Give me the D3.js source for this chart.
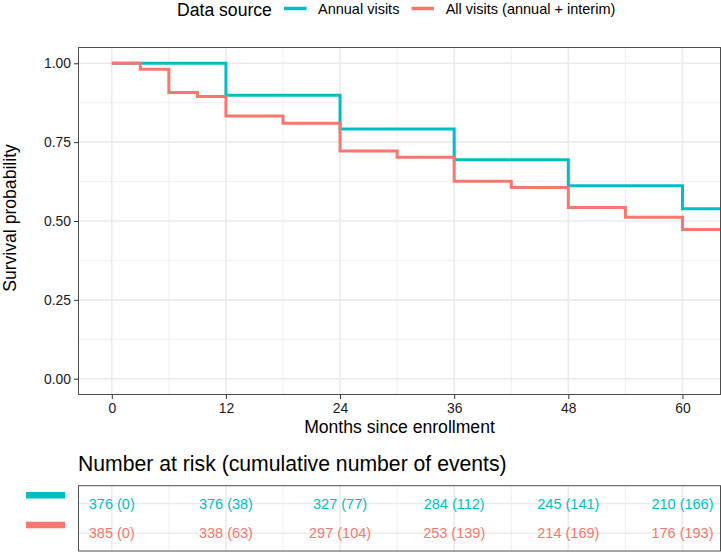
<!DOCTYPE html>
<html><head><meta charset="utf-8">
<script src="https://cdn.jsdelivr.net/npm/d3@7"></script>
<style>
html,body{margin:0;padding:0;background:#fff;}
svg{display:block;font-family:"Liberation Sans",Arial,Helvetica,sans-serif;}
</style></head>
<body>
<svg id="chart" width="721" height="552"></svg>
<script>
// ---------------- data ----------------
const seriesNames = ["Annual visits", "All visits (annual + interim)"];
const seriesColors = ["#00BFC4", "#F8766D"];

const annualTimes = [0, 12, 24, 36, 48, 60];
const annualSurv  = [1.000, 0.899, 0.792, 0.694, 0.612, 0.539];

const allTimes = [0, 3, 6, 9, 12, 18, 24, 30, 36, 42, 48, 54, 60];
const allSurv  = [1.000, 0.981, 0.907, 0.895, 0.833, 0.810, 0.722, 0.702, 0.626, 0.606, 0.543, 0.512, 0.473];

const followUpEnd = 66;

const xTicks = [0, 12, 24, 36, 48, 60];
const xMinor = [6, 18, 30, 42, 54];
const yTicks = [0, 0.25, 0.5, 0.75, 1];
const yMinor = [0.125, 0.375, 0.625, 0.875];

const riskTimes = [0, 12, 24, 36, 48, 60];
const riskAnnual = ["376 (0)", "376 (38)", "327 (77)", "284 (112)", "245 (141)", "210 (166)"];
const riskAll    = ["385 (0)", "338 (63)", "297 (104)", "253 (139)", "214 (169)", "176 (193)"];

// ---------------- layout ----------------
const svg = d3.select("#chart");
const P = {left: 78.5, right: 720.5, top: 47.5, bottom: 394.5};
const T = {left: 78.5, right: 720.5, top: 485.7, bottom: 551};
const gridCol = "#EBEBEB", borderCol = "#4D4D4D";

const x = d3.scaleLinear().domain([-3.5, 64.0]).range([P.left, P.right]);
const y = d3.scaleLinear().domain([-0.05, 1.05]).range([P.bottom, P.top]);

// clip
svg.append("defs").append("clipPath").attr("id","pclip")
  .append("rect").attr("x",P.left).attr("y",P.top).attr("width",P.right-P.left).attr("height",P.bottom-P.top);

// panel grid
const g = svg.append("g");
g.selectAll(".ymin").data(yMinor).join("line")
  .attr("x1",P.left).attr("x2",P.right).attr("y1",d=>y(d)).attr("y2",d=>y(d))
  .attr("stroke",gridCol).attr("stroke-width",0.8);
g.selectAll(".xmin").data(xMinor).join("line")
  .attr("y1",P.top).attr("y2",P.bottom).attr("x1",d=>x(d)).attr("x2",d=>x(d))
  .attr("stroke",gridCol).attr("stroke-width",0.8);
g.selectAll(".ymaj").data(yTicks).join("line")
  .attr("x1",P.left).attr("x2",P.right).attr("y1",d=>y(d)).attr("y2",d=>y(d))
  .attr("stroke",gridCol).attr("stroke-width",1.6);
g.selectAll(".xmaj").data(xTicks).join("line")
  .attr("y1",P.top).attr("y2",P.bottom).attr("x1",d=>x(d)).attr("x2",d=>x(d))
  .attr("stroke",gridCol).attr("stroke-width",1.6);

// step curves
function stepData(times, surv){
  const pts = times.map((t,i)=>[t, surv[i]]);
  pts.push([followUpEnd, surv[surv.length-1]]);
  return pts;
}
const line = d3.line().x(d=>x(d[0])).y(d=>y(d[1])).curve(d3.curveStepAfter);
const curves = svg.append("g").attr("clip-path","url(#pclip)");
[[annualTimes, annualSurv],[allTimes, allSurv]].forEach((s,i)=>{
  curves.append("path").attr("d", line(stepData(s[0], s[1])))
    .attr("fill","none").attr("stroke",seriesColors[i]).attr("stroke-width",3)
    .attr("stroke-linejoin","miter");
});

// panel border
svg.append("rect").attr("x",P.left).attr("y",P.top).attr("width",P.right-P.left).attr("height",P.bottom-P.top)
  .attr("fill","none").attr("stroke",borderCol).attr("stroke-width",1);

// axes
const xAxis = svg.append("g").attr("transform",`translate(0,${P.bottom})`)
  .call(d3.axisBottom(x).tickValues(xTicks).tickSize(4.5).tickPadding(4).tickFormat(d3.format("d")));
xAxis.select(".domain").remove();
xAxis.selectAll(".tick line").attr("stroke","#333").attr("stroke-width",1);
xAxis.selectAll(".tick text").attr("font-size","13.9px").attr("fill","#1a1a1a")
  .attr("font-family","'Liberation Sans',Arial,sans-serif");

const yAxis = svg.append("g").attr("transform",`translate(${P.left},0)`)
  .call(d3.axisLeft(y).tickValues(yTicks).tickSize(4.5).tickPadding(3).tickFormat(d3.format(".2f")));
yAxis.select(".domain").remove();
yAxis.selectAll(".tick line").attr("stroke","#333").attr("stroke-width",1);
yAxis.selectAll(".tick text").attr("font-size","13.9px").attr("fill","#1a1a1a")
  .attr("font-family","'Liberation Sans',Arial,sans-serif");

// axis titles
svg.append("text").attr("x",(P.left+P.right)/2).attr("y",432.5).attr("text-anchor","middle")
  .attr("font-size","17.6px").attr("fill","#000").text("Months since enrollment");
svg.append("text").attr("transform",`translate(16,${(P.top+P.bottom)/2 - 3}) rotate(-90)`)
  .attr("text-anchor","middle").attr("font-size","17.6px").attr("fill","#000").text("Survival probability");

// legend
const leg = svg.append("g");
leg.append("text").attr("x",177).attr("y",16).attr("font-size","17.6px").attr("fill","#000").text("Data source");
const legItems = [{x1:284, x2:306.5, tx:318},{x1:411.5, x2:434, tx:445.7}];
legItems.forEach((it,i)=>{
  leg.append("line").attr("x1",it.x1).attr("x2",it.x2).attr("y1",8.5).attr("y2",8.5)
    .attr("stroke",seriesColors[i]).attr("stroke-width",3.5);
  leg.append("text").attr("x",it.tx).attr("y",14).attr("font-size","14.5px").attr("fill","#000").text(seriesNames[i]);
});

// ---------------- risk table ----------------
svg.append("text").attr("x",78).attr("y",471).attr("font-size","21.2px").attr("fill","#000")
  .text("Number at risk (cumulative number of events)");

const rowY = d3.scalePoint().domain(seriesNames).range([T.top, T.bottom]).padding(0.6);
const tg = svg.append("g");
tg.selectAll(".tmin").data(xMinor).join("line")
  .attr("y1",T.top).attr("y2",T.bottom).attr("x1",d=>x(d)).attr("x2",d=>x(d))
  .attr("stroke",gridCol).attr("stroke-width",0.8);
tg.selectAll(".tmaj").data(xTicks).join("line")
  .attr("y1",T.top).attr("y2",T.bottom).attr("x1",d=>x(d)).attr("x2",d=>x(d))
  .attr("stroke",gridCol).attr("stroke-width",1.6);
tg.selectAll(".trow").data(seriesNames).join("line")
  .attr("x1",T.left).attr("x2",T.right).attr("y1",d=>rowY(d)).attr("y2",d=>rowY(d))
  .attr("stroke",gridCol).attr("stroke-width",1.6);

[riskAnnual, riskAll].forEach((vals,i)=>{
  tg.selectAll(".rt"+i).data(vals).join("text")
    .attr("x",(d,j)=>x(riskTimes[j])).attr("y",rowY(seriesNames[i]))
    .attr("dy","0.36em").attr("text-anchor","middle").attr("font-size","14.5px")
    .attr("fill",seriesColors[i]).text(d=>d);
});

svg.append("rect").attr("x",T.left).attr("y",T.top).attr("width",T.right-T.left).attr("height",T.bottom-T.top)
  .attr("fill","none").attr("stroke",borderCol).attr("stroke-width",1);

// table key bars
[495.3, 525].forEach((yy,i)=>{
  svg.append("line").attr("x1",26).attr("x2",65).attr("y1",yy).attr("y2",yy)
    .attr("stroke",seriesColors[i]).attr("stroke-width",6.5);
});
</script>
</body></html>
